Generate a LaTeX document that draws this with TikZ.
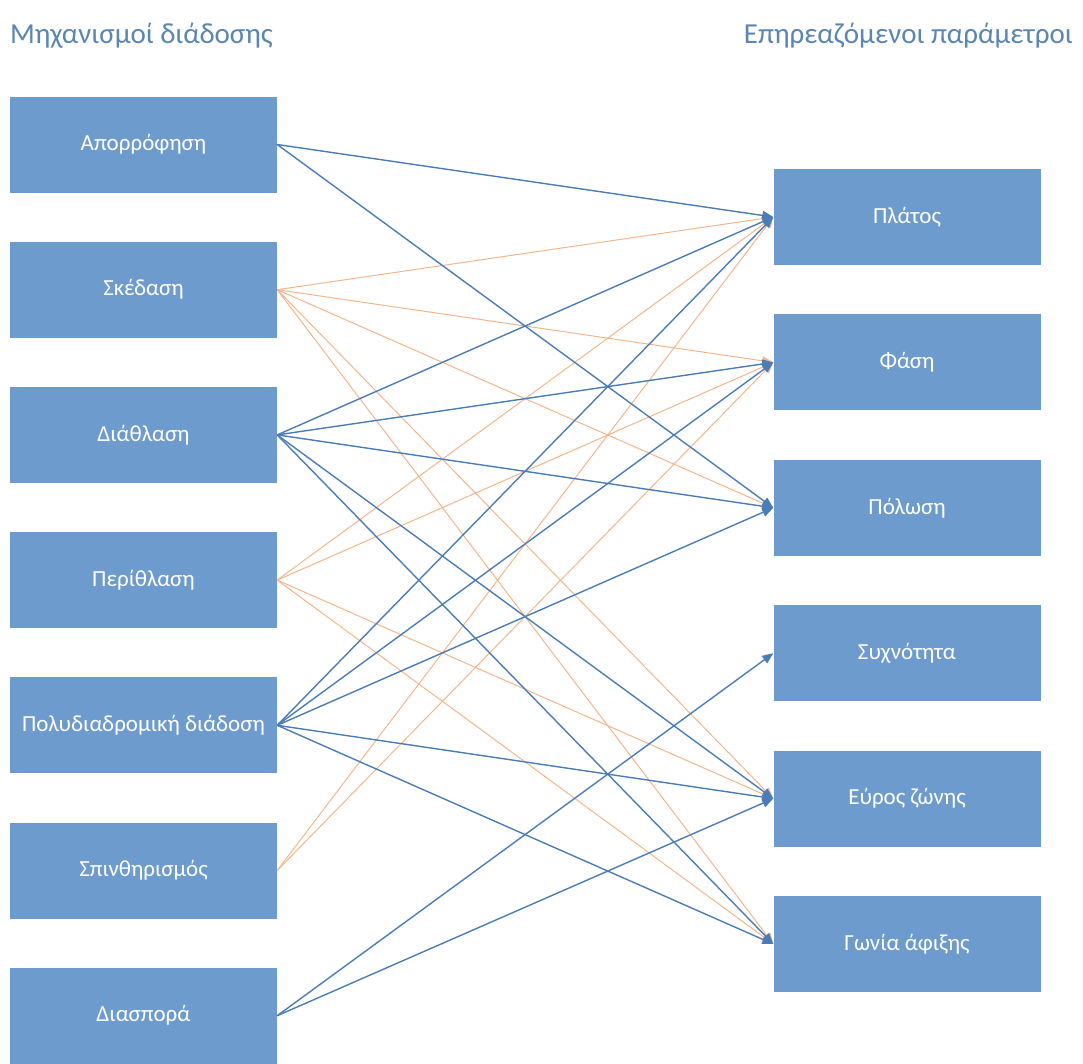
\documentclass[tikz,border=0pt]{standalone}
\usepackage{fontspec}
\setmainfont{Carlito}
\usetikzlibrary{arrows.meta}
\definecolor{boxfill}{HTML}{6E9BCD}
\definecolor{titleblue}{HTML}{5A86B1}
\definecolor{linkblue}{HTML}{4A7DB8}
\definecolor{linkorange}{HTML}{F4B58A}
\begin{document}
\begin{tikzpicture}[x=1pt,y=-1pt,
  item/.style={fill=boxfill, draw=none, minimum width=267pt, minimum height=96pt,
    inner sep=0pt, text=white, font=\fontsize{23}{26}\selectfont},
  heading/.style={text=titleblue, font=\fontsize{29}{33}\selectfont, inner sep=0pt},
  bl/.style={draw=linkblue, line width=1.4pt, -{Triangle[length=11pt,width=9pt]}},
  ol/.style={draw=linkorange, line width=1pt, -{Triangle[length=11pt,width=9pt]}}]
\useasboundingbox (0,0) rectangle (1083,1063);

% column headings
\node[heading, anchor=base west] (hl) at (10,43) {Μηχανισμοί διάδοσης};
\node[heading, anchor=base east] (hr) at (1073,43) {Επηρεαζόμενοι παράμετροι};

% propagation mechanisms
\node[item] (l1) at (143.5,144.5) {Απορρόφηση};
\node[item] (l2) at (143.5,289.7) {Σκέδαση};
\node[item] (l3) at (143.5,434.9) {Διάθλαση};
\node[item] (l4) at (143.5,580.1) {Περίθλαση};
\node[item] (l5) at (143.5,725.3) {Πολυδιαδρομική διάδοση};
\node[item] (l6) at (143.5,870.5) {Σπινθηρισμός};
\node[item] (l7) at (143.5,1015.7) {Διασπορά};

% affected parameters
\node[item] (r1) at (907,217) {Πλάτος};
\node[item] (r2) at (907,362.4) {Φάση};
\node[item] (r3) at (907,507.8) {Πόλωση};
\node[item] (r4) at (907,653.2) {Συχνότητα};
\node[item] (r5) at (907,798.6) {Εύρος ζώνης};
\node[item] (r6) at (907,944) {Γωνία άφιξης};

% orange links
\foreach \s/\t in {l2/r1,l2/r2,l2/r3,l2/r5,l2/r6,l4/r1,l4/r2,l4/r5,l4/r6,l6/r1,l6/r2}
  \draw[ol] (\s.east) -- (\t.west);

% blue links
\foreach \s/\t in {l1/r1,l1/r3,l3/r1,l3/r2,l3/r3,l3/r5,l3/r6,l5/r1,l5/r2,l5/r3,l5/r5,l5/r6,l7/r4,l7/r5}
  \draw[bl] (\s.east) -- (\t.west);
\end{tikzpicture}
\end{document}
